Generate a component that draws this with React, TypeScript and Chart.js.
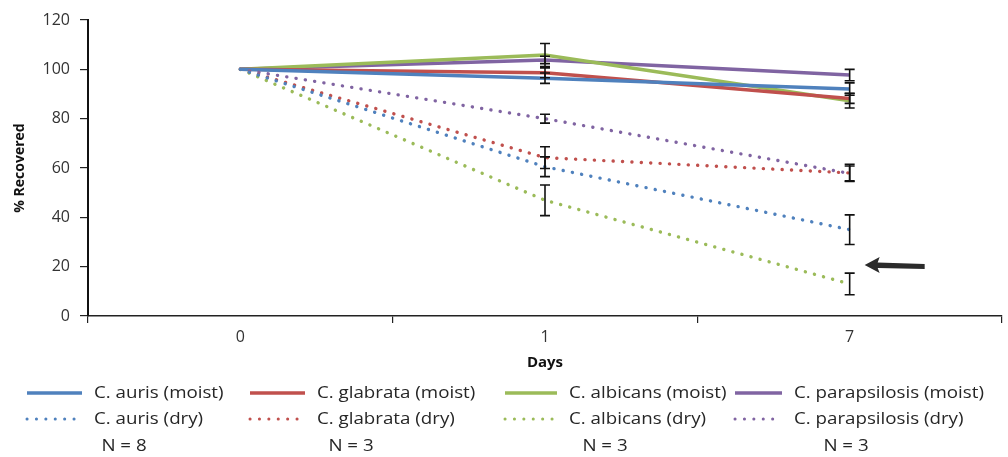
import React, { useEffect, useRef } from 'react';
import { Chart, registerables } from 'chart.js';

Chart.register(...registerables);

// ---------- data ----------
const days = ['0', '1', '7'];
const yMin = 0;
const yMax = 120;
const yStep = 20;

const aurisMoist = [100, 96.4, 92.0];
const glabrataMoist = [100, 98.6, 88.2];
const albicansMoist = [100, 105.8, 87.3];
const parapsilosisMoist = [100, 103.8, 97.7];
const aurisDry = [100, 60.5, 35.0];
const glabrataDry = [100, 64.2, 58.0];
const albicansDry = [100, 46.9, 13.0];
const parapsilosisDry = [100, 80.0, 57.8];

const aurisMoistErr = [0, 2.1, 2.5];
const glabrataMoistErr = [0, 2.0, 2.0];
const albicansMoistErr = [0, 4.7, 3.0];
const parapsilosisMoistErr = [0, 1.5, 2.3];
const aurisDryErr = [0, 4.0, 6.0];
const glabrataDryErr = [0, 4.4, 3.5];
const albicansDryErr = [0, 6.2, 4.4];
const parapsilosisDryErr = [0, 1.8, 3.0];

const moistLabels = ['C. auris (moist)', 'C. glabrata (moist)', 'C. albicans (moist)', 'C. parapsilosis (moist)'];
const dryLabels = ['C. auris (dry)', 'C. glabrata (dry)', 'C. albicans (dry)', 'C. parapsilosis (dry)'];
const sampleSizes = ['N = 8', 'N = 3', 'N = 3', 'N = 3'];
const arrowValue = 20.7;

const colors = ['#4F81BD', '#C0504D', '#9BBB59', '#8064A2'];
const FONT = '"Open Sans", Lato, sans-serif';
const TEXT_STRETCH = 1.17;

const DOT_DASH = [0.1, 9.3];

const errorBarPlugin = {
  id: 'errorBars',
  afterDatasetsDraw(chart: any) {
    const ctx = chart.ctx;
    const y = chart.scales.y;
    ctx.save();
    ctx.strokeStyle = '#111';
    ctx.lineWidth = 1.6;
    chart.data.datasets.forEach((ds: any, i: number) => {
      const meta = chart.getDatasetMeta(i);
      if (meta.hidden) return;
      meta.data.forEach((pt: any, j: number) => {
        const e = ds.errors ? ds.errors[j] : 0;
        if (!e) return;
        const v = ds.data[j];
        const yt = y.getPixelForValue(v + e);
        const yb = y.getPixelForValue(v - e);
        const x = pt.x;
        ctx.beginPath();
        ctx.moveTo(x, yt);
        ctx.lineTo(x, yb);
        ctx.moveTo(x - 5, yt);
        ctx.lineTo(x + 5, yt);
        ctx.moveTo(x - 5, yb);
        ctx.lineTo(x + 5, yb);
        ctx.stroke();
      });
    });
    ctx.restore();
  },
};

const arrowPlugin = {
  id: 'arrowNote',
  afterDraw(chart: any) {
    const ctx = chart.ctx;
    const xs = chart.scales.x;
    const ys = chart.scales.y;
    const xc = xs.getPixelForValue(2);
    const yy = ys.getPixelForValue(arrowValue);
    const tip = xc + 15;
    const tail = xc + 75;
    ctx.save();
    ctx.fillStyle = '#2b2b2b';
    ctx.beginPath();
    ctx.moveTo(tip, yy);
    ctx.lineTo(tip + 15, yy - 8);
    ctx.lineTo(tip + 13, yy - 2.5);
    ctx.lineTo(tail, yy - 1);
    ctx.lineTo(tail, yy + 4);
    ctx.lineTo(tip + 13, yy + 3);
    ctx.lineTo(tip + 15, yy + 8);
    ctx.closePath();
    ctx.fill();
    ctx.restore();
  },
};

function stretchedText(ctx: any, text: string, x: number, y: number, align: string) {
  ctx.save();
  ctx.translate(x, y);
  ctx.scale(TEXT_STRETCH, 1);
  ctx.textAlign = align;
  ctx.fillText(text, 0, 0);
  ctx.restore();
}

const legendPlugin = {
  id: 'customLegend',
  afterDraw(chart: any) {
    const ctx = chart.ctx;
    const colX = [27, 250, 505, 735];
    const lineLen = [55, 55, 52, 47];
    const rowY = [393, 419];
    const nX = [124, 351, 605, 846];
    ctx.save();
    ctx.font = '16px ' + FONT;
    ctx.textBaseline = 'middle';
    ctx.fillStyle = '#262626';
    for (let c = 0; c < 4; c++) {
      for (let r = 0; r < 2; r++) {
        const y = rowY[r];
        ctx.beginPath();
        ctx.strokeStyle = colors[c];
        if (r === 0) {
          ctx.setLineDash([]);
          ctx.lineWidth = 3.5;
          ctx.lineCap = 'butt';
        } else {
          ctx.setLineDash(DOT_DASH);
          ctx.lineWidth = 3;
          ctx.lineCap = 'round';
        }
        ctx.moveTo(colX[c], y);
        ctx.lineTo(colX[c] + lineLen[c], y);
        ctx.stroke();
        ctx.setLineDash([]);
        stretchedText(ctx, r === 0 ? moistLabels[c] : dryLabels[c], colX[c] + lineLen[c] + 12, y, 'left');
      }
      stretchedText(ctx, sampleSizes[c], nX[c], 446, 'center');
    }
    ctx.restore();
  },
};

function makeSolid(label: string, data: number[], errors: number[], color: string) {
  return {
    label,
    data,
    errors,
    borderColor: color,
    backgroundColor: color,
    borderWidth: 3.5,
    pointRadius: 0,
    pointHoverRadius: 0,
    tension: 0,
    fill: false,
  };
}

function makeDotted(label: string, data: number[], errors: number[], color: string) {
  return {
    label,
    data,
    errors,
    borderColor: color,
    backgroundColor: color,
    borderWidth: 3.4,
    borderDash: DOT_DASH,
    borderCapStyle: 'round',
    pointRadius: 0,
    pointHoverRadius: 0,
    tension: 0,
    fill: false,
  };
}

export default function App() {
  const canvasRef = useRef<HTMLCanvasElement | null>(null);

  useEffect(() => {
    if (!canvasRef.current) return;
    const chart = new Chart(canvasRef.current, {
      type: 'line',
      data: {
        labels: days,
        datasets: [
          makeDotted(dryLabels[0], aurisDry, aurisDryErr, colors[0]),
          makeDotted(dryLabels[1], glabrataDry, glabrataDryErr, colors[1]),
          makeDotted(dryLabels[2], albicansDry, albicansDryErr, colors[2]),
          makeDotted(dryLabels[3], parapsilosisDry, parapsilosisDryErr, colors[3]),
          makeSolid(moistLabels[0], aurisMoist, aurisMoistErr, colors[0]),
          makeSolid(moistLabels[1], glabrataMoist, glabrataMoistErr, colors[1]),
          makeSolid(moistLabels[2], albicansMoist, albicansMoistErr, colors[2]),
          makeSolid(moistLabels[3], parapsilosisMoist, parapsilosisMoistErr, colors[3]),
        ] as any,
      },
      options: {
        animation: false,
        responsive: false,
        maintainAspectRatio: false,
        layout: { padding: { top: 20, right: 6, left: 0, bottom: 0 } },
        plugins: {
          legend: { display: false },
          tooltip: { enabled: false },
        },
        scales: {
          x: {
            type: 'category',
            offset: true,
            grid: {
              display: true,
              offset: true,
              drawOnChartArea: false,
              drawTicks: true,
              tickLength: 7,
              color: '#222',
              lineWidth: 1.2,
            },
            border: { display: true, color: '#222', width: 1.5 },
            ticks: {
              color: '#333',
              font: { family: FONT, size: 16 },
              padding: 5,
            },
            title: {
              display: true,
              text: 'Days',
              color: '#111',
              font: { family: FONT, size: 15, weight: 'bold' },
              padding: { top: 0, bottom: 85 },
            },
            afterFit: (s: any) => {
              s.height = 141;
            },
          },
          y: {
            min: yMin,
            max: yMax,
            ticks: {
              stepSize: yStep,
              color: '#333',
              font: { family: FONT, size: 16 },
              padding: 10,
            },
            grid: {
              display: true,
              drawOnChartArea: false,
              drawTicks: true,
              tickLength: 8,
              color: '#222',
              lineWidth: 1.2,
            },
            border: { display: true, color: '#111', width: 2 },
            title: {
              display: true,
              text: '% Recovered',
              color: '#111',
              font: { family: FONT, size: 14, weight: 'bold' },
              padding: { top: 12, bottom: 0 },
            },
            afterFit: (s: any) => {
              s.width = 88;
            },
          },
        },
      } as any,
      plugins: [errorBarPlugin, arrowPlugin, legendPlugin],
    });
    return () => chart.destroy();
  }, []);

  return (
    <div style={{ position: 'absolute', left: 0, top: 0, width: 1008, height: 457, background: '#fff' }}>
      <canvas ref={canvasRef} width={1008} height={457} style={{ display: 'block' }} />
    </div>
  );
}
